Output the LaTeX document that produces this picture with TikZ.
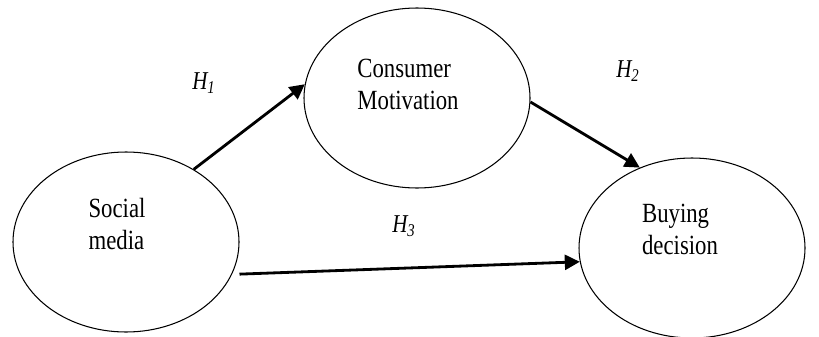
\documentclass[tikz,border=0pt]{standalone}
\usepackage{fontspec}
\setmainfont[FakeStretch=0.82]{Liberation Serif}
\usepackage{tikz}
\usetikzlibrary{shapes.geometric, arrows.meta}

\tikzset{
  factor/.style={draw, ellipse, line width=0.6pt, inner sep=0pt, minimum width=4.52cm, minimum height=3.6cm},
  factortext/.style={align=left, font=\fontsize{15.8}{18.2}\selectfont},
  hyplabel/.style={font=\fontsize{14.6}{17}\selectfont\itshape},
  hyparrow/.style={line width=1.6pt, -{Triangle[length=0.3cm, width=0.3cm]}}
}

\begin{document}
\begin{tikzpicture}
  \useasboundingbox (0, 0) rectangle (16.38, 6.72);

  % Social media
  \node[factor] (sm) at (2.52, 1.88) {};
  \node[factortext] (smtext) at (2.34, 2.24) {Social\\media};

  % Consumer Motivation
  \node[factor] (cm) at (8.34, 4.76) {};
  \node[factortext] (cmtext) at (8.16, 5.04) {Consumer\\Motivation};

  % Buying decision
  \node[factor] (bd) at (13.84, 1.76) {};
  \node[factortext] (bdtext) at (13.6, 2.14) {Buying\\decision};

  % Hypotheses
  \draw[hyparrow] (sm.47) -- (cm.173);
  \draw[hyparrow] (cm.-2) -- (bd.123);
  \draw[hyparrow, shorten <=0.15cm] (sm.-17) -- (bd.187);

  \node[hyplabel] (h1) at (4.08, 5.06) {H\textsubscript{1}};
  \node[hyplabel] (h2) at (12.56, 5.30) {H\textsubscript{2}};
  \node[hyplabel] (h3) at (8.08, 2.20) {H\textsubscript{3}};
\end{tikzpicture}
\end{document}
